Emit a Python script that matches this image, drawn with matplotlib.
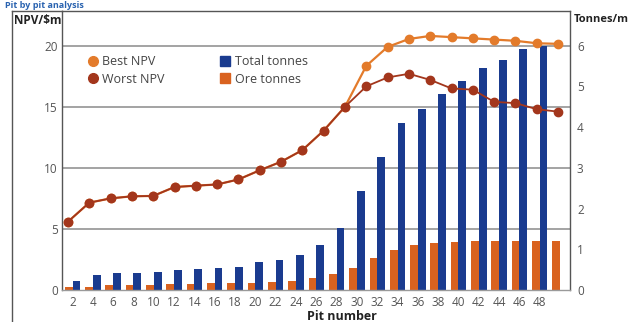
import numpy as np
import matplotlib
matplotlib.use("Agg")
import matplotlib.pyplot as plt
from matplotlib.lines import Line2D

plt.rcParams['font.family'] = ['Open Sans', 'DejaVu Sans']

# pit groups (bars) and tick labels
pit_labels = [str(p) for p in range(2, 50, 2)]
total_tonnes = [0.22, 0.38, 0.41, 0.41, 0.43, 0.49, 0.52, 0.54, 0.57, 0.68,
                0.74, 0.86, 1.10, 1.53, 2.42, 3.26, 4.10, 4.45, 4.82, 5.12,
                5.45, 5.65, 5.91, 6.00, np.nan]
ore_tonnes = [0.08, 0.08, 0.12, 0.12, 0.13, 0.14, 0.15, 0.16, 0.16, 0.17,
              0.20, 0.23, 0.29, 0.39, 0.55, 0.78, 0.98, 1.10, 1.15, 1.19,
              1.20, 1.21, 1.21, 1.21, 1.21]

# NPV curves, $m
best_npv = [5.59, 7.15, 7.50, 7.67, 7.70, 8.43, 8.54, 8.64, 9.05, 9.80,
            10.50, 11.45, 13.05, 15.00, 18.35, 19.90, 20.55, 20.80, 20.70, 20.60,
            20.50, 20.40, 20.20, 20.15]
worst_npv = [5.59, 7.15, 7.50, 7.67, 7.70, 8.43, 8.54, 8.64, 9.05, 9.80,
             10.50, 11.45, 13.05, 15.00, 16.67, 17.40, 17.70, 17.20, 16.50, 16.40,
             15.40, 15.30, 14.80, 14.60]

BLUE = '#1a3b8f'
ORE = '#d9621f'
BEST = '#e37b2b'
WORST = '#a3361c'
GRID = '#8a8a8a'
TXT = '#555555'

W, H = 628, 322
fig = plt.figure(figsize=(W / 100, H / 100), dpi=100)
fig.patch.set_facecolor('white')

rect = [62 / W, 32 / H, 508 / W, 279 / H]
ax_t = fig.add_axes(rect)
ax_n = fig.add_axes(rect, frameon=False)

# bars on tonnes scale
xb = np.arange(len(ore_tonnes))
bw = 0.38
for g in [1.5, 3.0, 4.5, 6.0]:
    ax_t.axhline(g, color=GRID, lw=1.1, zorder=0)
ax_t.bar(xb - bw / 2, ore_tonnes, bw, color=ORE, zorder=2)
ax_t.bar(xb + bw / 2, total_tonnes, bw, color=BLUE, zorder=2)
ax_t.set_xlim(-0.52, 24.49)
ax_t.set_ylim(0, 6.85)
ax_t.set_xticks(np.arange(len(pit_labels)))
ax_t.set_xticklabels(pit_labels)
ax_t.yaxis.tick_right()
ax_t.set_yticks(range(0, 7))
ax_t.tick_params(axis='x', length=0, pad=4, labelsize=8.5, colors=TXT)
ax_t.tick_params(axis='y', length=0, pad=5, labelsize=8.5, colors=TXT)
for s in ['top', 'left', 'right', 'bottom']:
    ax_t.spines[s].set_color('#555555')
    ax_t.spines[s].set_linewidth(1.0)
ax_t.spines['bottom'].set_color('#9a9a9a')

# NPV lines on their own scale
xl = np.arange(len(best_npv))
ax_n.plot(xl, best_npv, color=BEST, lw=1.6, marker='o', ms=6,
          mec=BEST, mfc=BEST, zorder=3)
ax_n.plot(xl, worst_npv, color=WORST, lw=1.3, marker='o', ms=6,
          mec=WORST, mfc=WORST, zorder=4)
ax_n.set_xlim(-0.28, 23.56)
ax_n.set_ylim(0, 22.84)
ax_n.set_xticks([])
ax_n.set_yticks([0, 5, 10, 15, 20])
ax_n.tick_params(axis='y', length=0, pad=3, labelsize=8.5, colors=TXT)

handles = [
    Line2D([], [], ls='', marker='o', ms=7, color=BEST),
    Line2D([], [], ls='', marker='o', ms=7, color=WORST),
    Line2D([], [], ls='', marker='s', ms=6.5, color=BLUE),
    Line2D([], [], ls='', marker='s', ms=6.5, color=ORE),
]
ax_n.legend(handles, ['Best NPV', 'Worst NPV', 'Total tonnes', 'Ore tonnes'],
            ncol=2, frameon=False, loc='upper left',
            bbox_to_anchor=(13 / 508, 1 - 33 / 279), fontsize=9,
            labelcolor='#444444', handletextpad=0.3, columnspacing=4.3,
            labelspacing=0.35, handlelength=1.0)

# axis titles and frame
fig.text(14 / W, 1 - 20 / H, 'NPV/\\$m', fontsize=8.5, fontweight='bold',
         color='#222222', va='center', ha='left')
fig.text(574 / W, 1 - 19 / H, 'Tonnes/m', fontsize=8, fontweight='bold',
         color='#222222', va='center', ha='left')
fig.text(342 / W, 1 - 316 / H, 'Pit number', fontsize=9, fontweight='bold',
         color='#222222', va='center', ha='center')
fig.text(5 / W, 1 - 1 / H, 'Pit by pit analysis', fontsize=6.5,
         fontweight='bold', color='#2a63b0', va='top', ha='left')
fig.add_artist(Line2D([12 / W, 12 / W], [0, 1 - 11 / H], color='#555555', lw=1.0))
fig.add_artist(Line2D([12 / W, 62 / W], [1 - 11 / H, 1 - 11 / H], color='#555555', lw=1.0))

fig.savefig('out.png', dpi=100)
